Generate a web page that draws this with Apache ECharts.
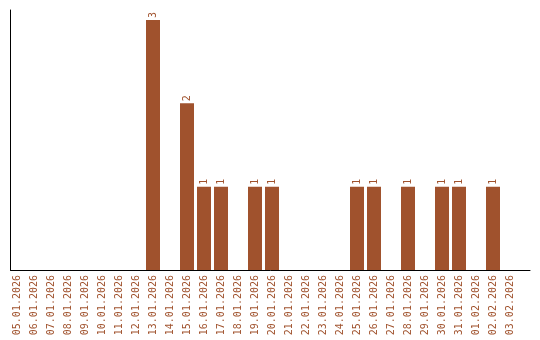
<!DOCTYPE html>
<html>
<head>
<meta charset="utf-8">
<script src="https://cdn.jsdelivr.net/npm/echarts@6/dist/echarts.min.js"></script>
<style>html,body{margin:0;padding:0;background:#fff}#c{width:540px;height:340px}</style>
</head>
<body>
<div id="c"></div>
<script>
var categories = ['05.01.2026','06.01.2026','07.01.2026','08.01.2026','09.01.2026','10.01.2026','11.01.2026','12.01.2026','13.01.2026','14.01.2026','15.01.2026','16.01.2026','17.01.2026','18.01.2026','19.01.2026','20.01.2026','21.01.2026','22.01.2026','23.01.2026','24.01.2026','25.01.2026','26.01.2026','27.01.2026','28.01.2026','29.01.2026','30.01.2026','31.01.2026','01.02.2026','02.02.2026','03.02.2026'];
var counts = [0,0,0,0,0,0,0,0,3,0,2,1,1,0,1,1,0,0,0,0,1,1,0,1,0,1,1,0,1,0];

var color = '#A0522D';
var font = 'DejaVu Sans Mono';
var chart = echarts.init(document.getElementById('c'));
chart.setOption({
  animation: false,
  grid: [
    {left: 8.5, width: 510, top: 10, height: 260},
    {left: 10.5, right: 10, top: 10, height: 260}
  ],
  xAxis: [
    {type: 'category', gridIndex: 0, data: categories,
     axisLine: {show: false}, axisTick: {show: false},
     axisLabel: {rotate: 90, interval: 0, margin: 5, color: color, fontFamily: font, fontSize: 10}},
    {type: 'value', gridIndex: 1, min: 0, max: 1,
     axisLine: {show: true, lineStyle: {color: '#000', width: 1}},
     axisTick: {show: false}, axisLabel: {show: false}, splitLine: {show: false}}
  ],
  yAxis: [
    {type: 'value', gridIndex: 0, min: 0, max: 3.12, offset: -2,
     axisLine: {show: true, lineStyle: {color: '#000', width: 1}},
     axisTick: {show: false}, axisLabel: {show: false}, splitLine: {show: false}},
    {type: 'value', gridIndex: 1, min: 0, max: 1, show: false}
  ],
  series: [{
    type: 'bar', xAxisIndex: 0, yAxisIndex: 0,
    data: counts.map(function (v) { return v === 0 ? null : v; }),
    barWidth: 14,
    itemStyle: {color: color},
    label: {show: true, position: 'top', rotate: 90, align: 'left', verticalAlign: 'middle',
            distance: 2, color: color, fontFamily: font, fontSize: 10}
  }]
});
</script>
</body>
</html>
